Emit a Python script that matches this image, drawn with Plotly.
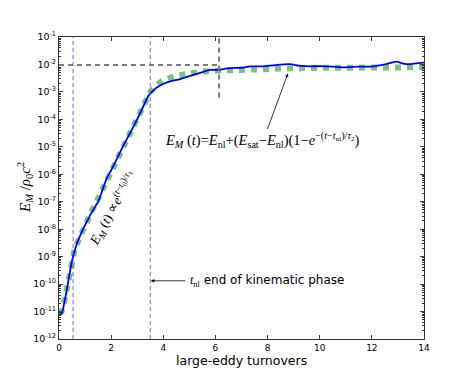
import plotly.graph_objects as go

# Simulation (blue) curve: time in large-eddy turnovers, magnetic energy
t_sim = [0.0, 0.1, 0.2, 0.3, 0.4, 0.5, 0.6, 0.7, 0.85, 1.0, 1.25, 1.5, 1.83, 2.0,
         2.47, 2.75, 3.04, 3.25, 3.43, 3.6, 3.75, 4.13, 4.64, 5.28, 5.8, 6.05,
         6.56, 7.0, 7.33, 7.8, 8.3, 8.86, 9.2, 9.63, 10.0, 10.5, 10.9, 11.5,
         12.05, 12.5, 12.95, 13.2, 13.46, 13.8, 14.0]
E_sim = [7.6e-12, 8.3e-12, 2.0e-11, 6.3e-11, 2.2e-10, 7.1e-10, 1.6e-9, 3.2e-9,
         7.1e-9, 1.4e-8, 4.0e-8, 1.0e-7, 7.1e-7, 1.4e-6, 1.1e-5, 3.5e-5,
         1.2e-4, 3.2e-4, 7.2e-4, 1.1e-3, 1.45e-3, 2.2e-3, 2.95e-3, 4.5e-3,
         6.3e-3, 6.3e-3, 7.4e-3, 7.6e-3, 8.5e-3, 8.5e-3, 9.5e-3, 1.02e-2,
         9.1e-3, 8.5e-3, 8.7e-3, 8.3e-3, 7.8e-3, 8.3e-3, 8.5e-3, 1.0e-2,
         1.26e-2, 1.07e-2, 1.02e-2, 1.12e-2, 1.17e-2]

# Model fit (green dotted) curve
t_fit = [0.0, 0.1, 0.2, 0.3, 0.4, 0.5, 0.6, 0.75, 1.0, 1.25, 1.5, 1.75, 2.0,
         2.25, 2.5, 2.75, 3.0, 3.25, 3.5, 3.75, 4.0, 4.5, 5.0, 5.5, 6.0, 7.0,
         8.0, 9.0, 10.0, 11.0, 12.0, 13.0, 14.0]
E_fit = [8.5e-12, 1.0e-11, 2.2e-11, 7.5e-11, 2.6e-10, 8.0e-10, 1.8e-9, 4.0e-9,
         1.5e-8, 4.5e-8, 1.3e-7, 4.0e-7, 1.2e-6, 3.8e-6, 1.2e-5, 3.8e-5,
         1.25e-4, 3.8e-4, 1.0e-3, 1.8e-3, 2.7e-3, 3.9e-3, 4.9e-3, 5.5e-3,
         5.9e-3, 6.5e-3, 7.0e-3, 7.3e-3, 7.5e-3, 7.7e-3, 7.8e-3, 7.9e-3, 7.9e-3]

# Characteristic times / energies
t_start = 0.54
t_nl = 3.5
t_sat = 6.14
E_sat = 9.5e-3

x_ticks = [0, 2, 4, 6, 8, 10, 12, 14]
y_exps = [-12, -11, -10, -9, -8, -7, -6, -5, -4, -3, -2, -1]
y_tickvals = [10.0 ** e for e in y_exps]
y_ticktext = ["10<sup>%d</sup>" % e for e in y_exps]
y_minor = [m * 10.0 ** e for e in y_exps[:-1] for m in range(2, 10)]

fig = go.Figure()
fig.add_trace(go.Scatter(x=t_fit, y=E_fit, mode="lines",
                         line=dict(color="rgba(90,180,90,0.8)", width=6, dash="dot"),
                         showlegend=False))
fig.add_trace(go.Scatter(x=t_sim, y=E_sim, mode="lines",
                         line=dict(color="#0000ff", width=1.8, shape="spline", smoothing=0.6),
                         showlegend=False))

# Vertical blue dashed lines
for tv in (t_start, t_nl):
    fig.add_shape(type="line", xref="x", yref="paper", x0=tv, x1=tv, y0=0, y1=1,
                  line=dict(color="rgba(90,90,255,0.9)", width=1, dash="4px,3px"))
# Gray dashed lines
fig.add_shape(type="line", xref="x", yref="y", x0=0, x1=t_sat,
              y0=E_sat, y1=E_sat, line=dict(color="#7a7a7a", width=2, dash="5px,4px"))
fig.add_shape(type="line", xref="x", yref="paper", x0=t_sat, x1=t_sat,
              y0=0.80, y1=1, line=dict(color="#7a7a7a", width=2, dash="5px,4px"))

serif = "Liberation Serif"
# Rotated growth annotation
fig.add_annotation(x=2.07, y=-7.25, xref="x", yref="y", showarrow=False,
                   textangle=-61,
                   text="<i>E<sub>M</sub></i> (<i>t</i>) ∝<i>e</i><sup>(<i>t</i>−<i>t</i><sub>0</sub>)/<i>τ</i><sub>1</sub></sup>",
                   font=dict(family=serif, size=13.5, color="black"))
# t_nl arrow and text
fig.add_annotation(x=t_nl + 0.02, y=-9.88, xref="x", yref="y", text="",
                   showarrow=True, ax=36, ay=0, arrowhead=2, arrowsize=0.9,
                   arrowwidth=0.8, arrowcolor="black")
fig.add_annotation(x=4.93, y=-9.88, xref="x", yref="y", xanchor="left",
                   showarrow=False,
                   text="<span style='font-family:Liberation Serif'><i>t</i><sub>nl</sub></span> end of kinematic phase",
                   font=dict(family="DejaVu Sans", size=12, color="black"))
# Saturation formula arrow and text
fig.add_annotation(x=8.78, y=-2.33, xref="x", yref="y", text="",
                   showarrow=True, ax=-21, ay=57, arrowhead=2, arrowsize=0.9,
                   arrowwidth=0.8, arrowcolor="black")
fig.add_annotation(x=7.82, y=-4.76, xref="x", yref="y", showarrow=False,
                   text="<i>E<sub>M</sub></i> (<i>t</i>)=<i>E</i><sub>nl</sub>+(<i>E</i><sub>sat</sub>−<i>E</i><sub>nl</sub>)(1−<i>e</i><sup>−(<i>t</i>−<i>t</i><sub>nl</sub>)/<i>τ</i><sub>2</sub></sup>)",
                   font=dict(family=serif, size=14.5, color="black"))
# Axis titles
fig.add_annotation(x=0.5, y=0, xref="paper", yref="paper", yanchor="top",
                   yshift=-12, showarrow=False, text="large-eddy turnovers",
                   font=dict(family="DejaVu Sans", size=12.5, color="black"))
fig.add_annotation(x=0, y=0.5, xref="paper", yref="paper", xanchor="center",
                   xshift=-34, showarrow=False, textangle=-90,
                   text="<i>E<sub>M</sub></i> /<i>ρ</i><sub>0</sub><i>c</i><sup>2</sup>",
                   font=dict(family=serif, size=15, color="black"))

fig.update_layout(
    width=463, height=369,
    margin=dict(l=51, r=47, t=29, b=38),
    paper_bgcolor="white", plot_bgcolor="white",
    showlegend=False,
    font=dict(family="DejaVu Sans", size=9, color="black"),
)
fig.update_xaxes(range=[0, 14], tickvals=x_ticks, ticks="inside", ticklen=4,
                 showline=True, linecolor="#333", linewidth=1, mirror="allticks",
                 showgrid=False, zeroline=False, automargin=False,
                 tickfont=dict(size=9))
fig.update_yaxes(type="log", range=[-12, -1], tickvals=y_tickvals, ticktext=y_ticktext,
                 ticks="inside", ticklen=4,
                 minor=dict(ticks="inside", ticklen=2, tickcolor="#333", showgrid=False,
                            tickvals=y_minor),
                 showline=True, linecolor="#333", linewidth=1, mirror="allticks",
                 showgrid=False, zeroline=False, automargin=False, tickfont=dict(size=9.5))

fig.write_html("out.html")
